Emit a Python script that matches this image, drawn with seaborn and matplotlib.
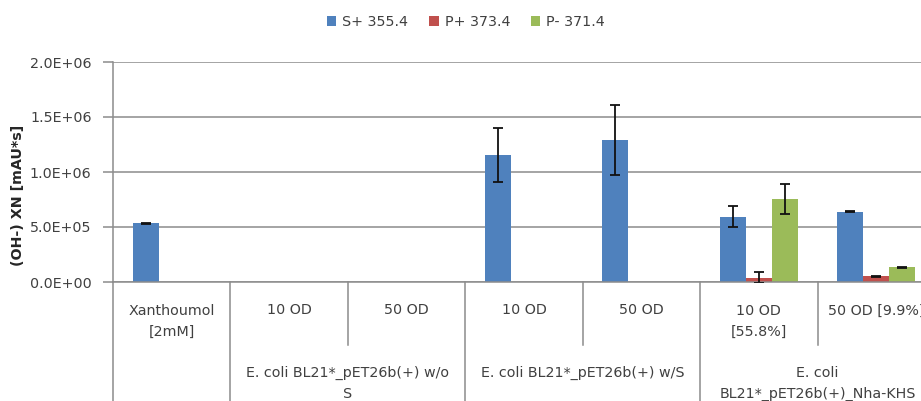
import numpy as np
import pandas as pd
import matplotlib
matplotlib.use("Agg")
import matplotlib.pyplot as plt
import matplotlib.transforms as mtransforms
from matplotlib.patches import Patch
import seaborn as sns

# ---------------- data ----------------
cat_keys = ["c0", "c1", "c2", "c3", "c4", "c5", "c6"]
cat_labels = ["Xanthoumol\n[2mM]", "10 OD", "50 OD", "10 OD", "50 OD",
              "10 OD\n[55.8%]", "50 OD [9.9%]"]
group_labels = ["", "E. coli BL21*_pET26b(+) w/o\nS",
                "E. coli BL21*_pET26b(+) w/S",
                "E. coli\nBL21*_pET26b(+)_Nha-KHS"]
group_sizes = [1, 2, 2, 2]

series = ["S+ 355.4", "P+ 373.4", "P- 371.4"]
s_plus = [533000, 0, 0, 1155000, 1288000, 594000, 639000]
p_plus = [0, 0, 0, 0, 0, 40000, 52000]
p_minus = [0, 0, 0, 0, 0, 755000, 134000]
s_plus_err = [4000, 0, 0, 245000, 318000, 94000, 4000]
p_plus_err = [0, 0, 0, 0, 0, 50000, 3000]
p_minus_err = [0, 0, 0, 0, 0, 135000, 4000]

yticks = [0, 500000, 1000000, 1500000, 2000000]
ytick_labels = ["0.0E+00", "5.0E+05", "1.0E+06", "1.5E+06", "2.0E+06"]
ylabel = "(OH-) XN [mAU*s]"

colors = ["#4F81BD", "#C0504D", "#9BBB59"]

values = [s_plus, p_plus, p_minus]
errors = [s_plus_err, p_plus_err, p_minus_err]

df = pd.DataFrame({
    "category": cat_keys * 3,
    "series": [s for s in series for _ in cat_keys],
    "value": s_plus + p_plus + p_minus,
})

# ---------------- figure ----------------
W, H = 921, 401
fig = plt.figure(figsize=(W / 100, H / 100), dpi=100)
plt.rcParams["font.family"] = ["DejaVu Sans"]

x0, x1 = 113, 935
y_top, y_bot = 62, 282
ax = fig.add_axes([x0 / W, (H - y_bot) / H, (x1 - x0) / W, (y_bot - y_top) / H])

bar_width = 0.664
sns.barplot(data=df, x="category", y="value", hue="series", order=cat_keys,
            hue_order=series, palette=colors, saturation=1, width=bar_width,
            errorbar=None, legend=False, ax=ax, linewidth=0)

# error bars placed at the bar centers computed by seaborn
sub_w = bar_width / len(series)
for p in ax.patches:
    if not hasattr(p, "get_height"):
        continue
    cx = p.get_x() + p.get_width() / 2
    h = p.get_height()
    ci = int(round(cx))
    hi = int(round((cx - ci) / sub_w)) + 1
    if ci < 0 or ci >= len(cat_keys) or hi < 0 or hi >= len(series):
        continue
    e = errors[hi][ci]
    if e > 0:
        ax.errorbar(cx, h, yerr=e, ecolor="#111111", elinewidth=1.3,
                    capsize=3.8, capthick=1.3, fmt="none", zorder=5)

ax.set_xlim(-0.5, len(cat_keys) - 0.5)
ax.set_ylim(0, 2000000)
ax.set_yticks(yticks)
ax.set_yticklabels(ytick_labels)
ax.set_xticks([])
ax.set_xlabel("")
ax.set_ylabel("")

grid_c = "#8C8C8C"
ax.grid(axis="y", color=grid_c, linewidth=1.1)
ax.set_axisbelow(True)
for s in ["top", "right"]:
    ax.spines[s].set_visible(False)
ax.spines["left"].set_color(grid_c)
ax.spines["bottom"].set_color(grid_c)
ax.spines["left"].set_linewidth(1.1)
ax.spines["bottom"].set_linewidth(1.1)
ax.tick_params(axis="y", length=7, width=1.1, color=grid_c, pad=8.5,
               labelsize=10.3, labelcolor="#404040")
ax.set_facecolor("white")

# ---------------- multi-level category axis ----------------
trans = mtransforms.blended_transform_factory(ax.transData, ax.transAxes)
ph = y_bot - y_top
line_px = 21.5


def ay(py):
    return (y_bot - py) / ph


txt_kw = dict(transform=trans, ha="center", va="baseline", fontsize=10.3,
              color="#404040", clip_on=False, linespacing=1.62)


def put(xc, first_baseline, text):
    # va='baseline' anchors the last line; shift by the number of extra lines
    n = text.count("\n")
    ax.text(xc, ay(first_baseline + n * line_px), text, **txt_kw)


# level 1 labels
for i, lab in enumerate(cat_labels):
    put(i, 314.5, lab)

# group boundaries and labels
start = 0
group_edges = [-0.5]
for g, n in zip(group_labels, group_sizes):
    end = start + n
    group_edges.append(end - 0.5)
    if g:
        put((start + end - 1) / 2, 376.5, g)
    for k in range(start + 1, end):
        ax.plot([k - 0.5, k - 0.5], [0, ay(345)], transform=trans,
                color=grid_c, lw=1.1, clip_on=False)
    start = end
for e in group_edges:
    ax.plot([e, e], [0, ay(H + 5)], transform=trans, color=grid_c, lw=1.1,
            clip_on=False)

# y label
fig.text(18 / W, 1 - 195 / H, ylabel, rotation=90, ha="center", va="center",
         fontsize=10.3, fontweight="bold", color="#262626")

# legend
handles = [Patch(facecolor=c, edgecolor="none", label=s)
           for c, s in zip(colors, series)]
leg = fig.legend(handles=handles, loc="center", ncol=3,
                 bbox_to_anchor=(466 / W, 1 - 22 / H), frameon=False,
                 fontsize=10.3, handlelength=0.65, handleheight=0.65,
                 handletextpad=0.42, columnspacing=1.45)
for t in leg.get_texts():
    t.set_color("#404040")

fig.savefig("out.png", dpi=100, facecolor="white")
